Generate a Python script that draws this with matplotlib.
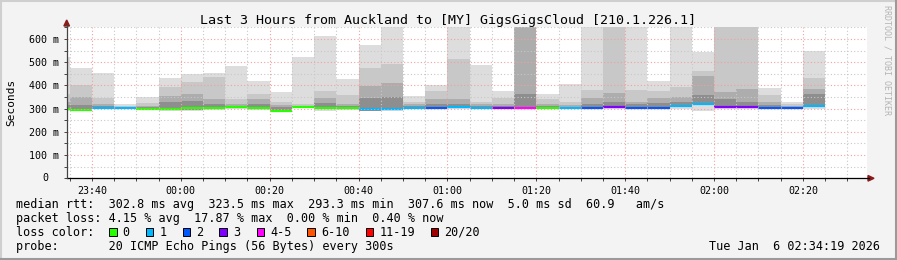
import numpy as np
import matplotlib
matplotlib.use("Agg")
import matplotlib.pyplot as plt
import matplotlib.transforms as mtransforms
from matplotlib.lines import Line2D
from matplotlib.patches import Rectangle, Polygon

W, H = 897, 260
MONO = 'DejaVu Sans Mono'

# one 5-minute step per entry (start of step)
slot = ['23:30', '23:35', '23:40', '23:45', '23:50', '23:55',
        '00:00', '00:05', '00:10', '00:15', '00:20', '00:25',
        '00:30', '00:35', '00:40', '00:45', '00:50', '00:55',
        '01:00', '01:05', '01:10', '01:15', '01:20', '01:25',
        '01:30', '01:35', '01:40', '01:45', '01:50', '01:55',
        '02:00', '02:05', '02:10', '02:15', '02:20']

# smoke bands in ms (outer -> inner); values above 650 are clipped by the graph
ping_max = [524, 475, 452, 320, 350, 431, 449, 455, 485, 419, 372, 524,
            613, 427, 575, 700, 353, 402, 700, 489, 376, 700, 363, 406,
            700, 700, 700, 419, 700, 545, 700, 700, 389, 328, 548]
band2_top = [365, 401, 347, 312, 325, 395, 415, 436, 343, 363, 328, 320,
             375, 360, 475, 494, 330, 376, 514, 330, 345, 700, 340, 330,
             379, 700, 380, 375, 392, 462, 700, 700, 360, 318, 431]
band3_top = [330, 350, 320, 308, 312, 354, 363, 340, 318, 340, 315, 312,
             345, 322, 397, 410, 318, 340, 340, 318, 320, 700, 320, 315,
             345, 369, 330, 345, 350, 442, 372, 386, 330, 310, 385]
band4_top = [315, 315, 310, 305, 306, 330, 335, 320, 310, 320, 305, 308,
             325, 310, 345, 350, 310, 318, 322, 312, 312, 363, 312, 308,
             320, 330, 318, 325, 330, 360, 340, 330, 315, 306, 363]
ping_min = [292, 289, 297, 297, 294, 292, 292, 296, 298, 293, 286, 302,
            292, 296, 290, 292, 298, 298, 300, 300, 298, 298, 300, 300,
            300, 300, 300, 300, 298, 290, 300, 300, 298, 298, 300]
inner_min = [296, 293, 298, 298, 295, 295, 295, 298, 301, 299, 289, 303,
             297, 297, 292, 295, 299, 299, 302, 301, 299, 299, 300, 300,
             300, 302, 301, 301, 306, 316, 304, 302, 301, 300, 306]
median_rtt = [300, 296, 301, 301, 297, 300, 301, 302, 305, 303, 292, 306,
              301, 301, 300, 300, 301, 302, 305, 304, 302, 302, 302, 302,
              302, 306, 304, 304, 311, 322, 308, 306, 304, 303, 310]
lost_pings = [0, 0, 1, 1, 0, 0, 0, 0, 0, 0, 0, 0,
              0, 0, 1, 1, 1, 2, 1, 1, 3, 4, 0, 1,
              2, 3, 2, 2, 1, 1, 3, 3, 2, 2, 1]

loss_labels = ['0', '1', '2', '3', '4-5', '6-10', '11-19', '20/20']
loss_colors = ['#26ff00', '#00b8ff', '#0059ff', '#7e00ff', '#ff00ff',
               '#ff5500', '#ff0000', '#a10000']
loss_upper = [0, 1, 2, 3, 5, 10, 19, 20]

smoke_colors = ['#dddddd', '#c8c8c8', '#adadad', '#8e8e8e']

xtick_labels = ['23:40', '00:00', '00:20', '00:40', '01:00',
                '01:20', '01:40', '02:00', '02:20']
ytick_vals = [0, 100, 200, 300, 400, 500, 600]

title = 'Last 3 Hours from Auckland to [MY] GigsGigsCloud [210.1.226.1]'
legend_rows = [
    'median rtt:  302.8 ms avg  323.5 ms max  293.3 ms min  307.6 ms now  5.0 ms sd  60.9   am/s',
    'packet loss: 4.15 % avg  17.87 % max  0.00 % min  0.40 % now',
    'loss color:',
    'probe:       20 ICMP Echo Pings (56 Bytes) every 300s',
]
stamp = 'Tue Jan  6 02:34:19 2026'
t_end = '02:34:19'


def to_min(s):
    parts = [int(p) for p in s.split(':')]
    v = parts[0] * 60 + parts[1] + (parts[2] / 60 if len(parts) > 2 else 0)
    return v - 1440 if parts[0] >= 12 else v


def fx(px):
    return px / W


def fy(py):
    return 1 - py / H


x0 = np.array([to_min(s) for s in slot])
x_right = to_min(t_end)
x_left = x_right - 180

fig = plt.figure(figsize=(W / 100, H / 100), dpi=100, facecolor='#f3f3f3')
ax = fig.add_axes([fx(66.7), fy(178.3), fx(866.5) - fx(66.7), fy(27.4) - fy(178.3)])
ax.set_facecolor('white')

tops = [ping_max, band2_top, band3_top, band4_top]
lows = [ping_min, inner_min, inner_min, inner_min]
for top, low, col in zip(tops, lows, smoke_colors):
    ax.bar(x0, np.array(top) - np.array(low), bottom=low, width=5, align='edge',
           color=col, linewidth=0, zorder=1)

med_cols = [loss_colors[next(i for i, u in enumerate(loss_upper) if n <= u)]
            for n in lost_pings]
ax.hlines(median_rtt, x0, x0 + 5, colors=med_cols, linewidth=1.6,
          capstyle='butt', zorder=2)

ax.set_xlim(x_left, x_right)
ax.set_ylim(0, 650)

ax.set_xticks([to_min(s) for s in xtick_labels])
ax.set_xticklabels(xtick_labels, family=MONO, fontsize=7.2)
ax.set_xticks(np.arange(-25, x_right, 5), minor=True)
ax.set_yticks(ytick_vals)
ax.set_yticklabels([f'{v} m' if v else '' for v in ytick_vals], family=MONO, fontsize=7.2)
ax.set_yticks(np.arange(50, 651, 100), minor=True)

ax.grid(which='major', color='#f2a0a0', linestyle=(0, (1, 2)), linewidth=0.8)
ax.grid(which='minor', color='#c8c8c8', linestyle=(0, (1, 2)), linewidth=0.8)
ax.set_axisbelow(False)
ax.tick_params(which='both', direction='out', color='#444444', length=2, width=0.7)
ax.tick_params(axis='x', which='major', pad=3.5, length=2)
ax.tick_params(axis='y', which='major', pad=3.5)

zero_tf = mtransforms.offset_copy(ax.get_yaxis_transform(), fig=fig, x=-24, y=0, units='dots')
ax.text(0, 0, '0', transform=zero_tf, family=MONO, fontsize=7.2, ha='left', va='center')

for s in ['top', 'right', 'bottom', 'left']:
    ax.spines[s].set_visible(False)

# axes with arrows
fig.add_artist(Line2D([fx(66.7), fx(869)], [fy(178.3), fy(178.3)], color='black', lw=0.9))
fig.add_artist(Line2D([fx(66.7), fx(66.7)], [fy(178.3), fy(25)], color='#444444', lw=0.9))
fig.add_artist(Polygon([[fx(868), fy(175.5)], [fx(874), fy(178.3)], [fx(868), fy(181.1)]],
                       closed=True, color='#8b1a1a', transform=fig.transFigure))
fig.add_artist(Polygon([[fx(63.9), fy(26)], [fx(66.7), fy(20)], [fx(69.5), fy(26)]],
                       closed=True, color='#8b1a1a', transform=fig.transFigure))

fig.text(fx(448), fy(24), title, family=MONO, fontsize=9.6, ha='center', va='baseline')
fig.text(fx(11), fy(102.5), 'Seconds', family=MONO, fontsize=8, rotation=90,
         ha='center', va='center')
fig.text(fx(887), fy(5), 'RRDTOOL / TOBI OETIKER', family=MONO, fontsize=6,
         color='#b4b4b4', rotation=-90, ha='center', va='top')

row_base = [207.7, 221.7, 235.7, 250.0]
for txt, yb in zip(legend_rows, row_base):
    fig.text(fx(16), fy(yb), txt, family=MONO, fontsize=8.5, ha='left', va='baseline')
fig.text(fx(880), fy(row_base[3]), stamp, family=MONO, fontsize=8.5, ha='right', va='baseline')

box_x = [109, 145.7, 182.7, 219.3, 256.7, 307.3, 365.7, 430.7]
for bx, lab, col in zip(box_x, loss_labels, loss_colors):
    fig.add_artist(Rectangle((fx(bx), fy(235.7)), fx(7.5), fy(227.5) - fy(235.7),
                             facecolor=col, edgecolor='black', linewidth=0.7,
                             transform=fig.transFigure))
    fig.text(fx(bx + 13.7), fy(row_base[2]), lab, family=MONO, fontsize=8.5,
             ha='left', va='baseline')

# 3d frame round the image
fig.add_artist(Line2D([0, 1], [fy(0.7), fy(0.7)], color='#cfcfcf', lw=1.5))
fig.add_artist(Line2D([fx(0.7), fx(0.7)], [0, 1], color='#cfcfcf', lw=1.5))
fig.add_artist(Line2D([0, 1], [fy(259), fy(259)], color='#9a9a9a', lw=1.5))
fig.add_artist(Line2D([fx(896.3), fx(896.3)], [0, 1], color='#9a9a9a', lw=1.5))

fig.savefig('out.png', dpi=100, facecolor=fig.get_facecolor())
